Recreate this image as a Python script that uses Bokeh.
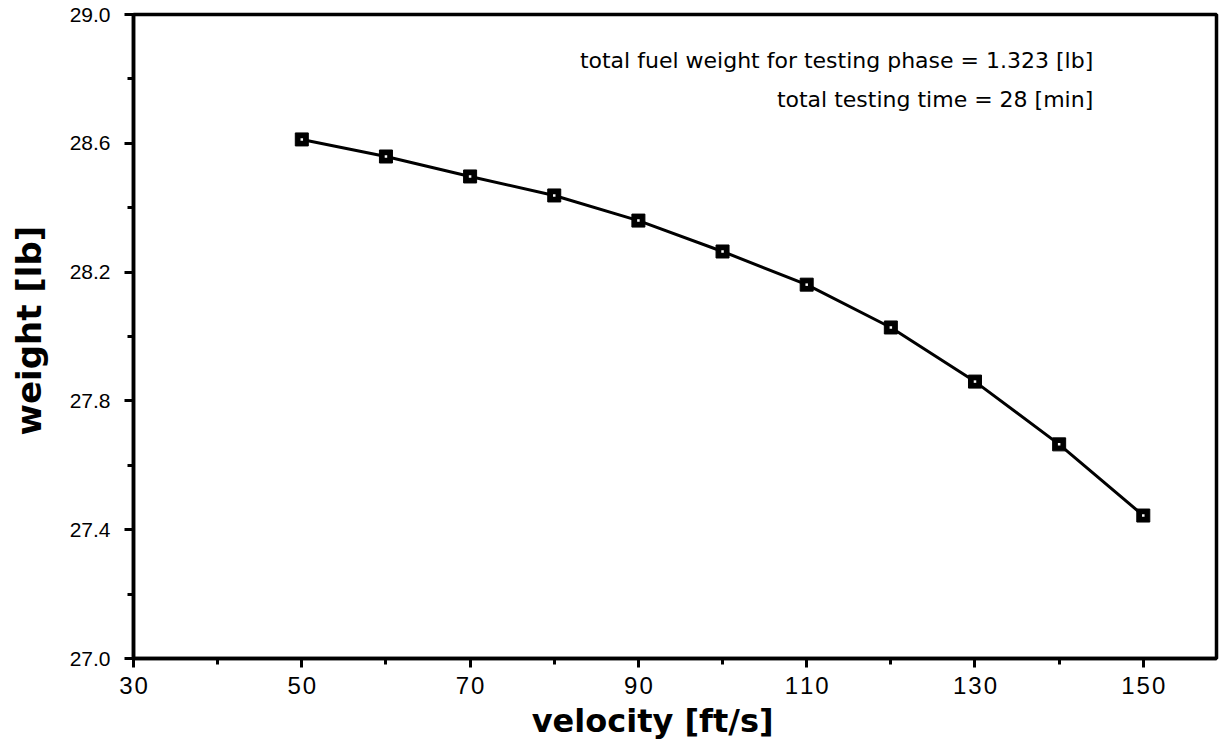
from bokeh.plotting import figure
from bokeh.models import Label, FixedTicker, CustomJSTickFormatter, Range1d
from bokeh.embed import file_html
from bokeh.resources import INLINE

# Data
velocity = [50, 60, 70, 80, 90, 100, 110, 120, 130, 140, 150]
weight = [28.612, 28.559, 28.497, 28.438, 28.360, 28.264, 28.161, 28.028, 27.860, 27.665, 27.444]

x_ticks = [30, 50, 70, 90, 110, 130, 150]
x_minor = [40, 60, 80, 100, 120, 140]
y_ticks = [27.0, 27.4, 27.8, 28.2, 28.6, 29.0]
y_minor = [27.2, 27.6, 28.0, 28.4, 28.8]

x_title = "velocity [ft/s]"
y_title = "weight  [lb]"
note1 = "total fuel weight for testing phase = 1.323 [lb]"
note2 = "total testing time = 28 [min]"

FONT = "Liberation Sans"
WIDE = "DejaVu Sans"
NB = "\u00a0"

p = figure(width=1221, height=750, output_backend="svg", toolbar_location=None,
           x_range=Range1d(30, 158.7), y_range=Range1d(27.0, 29.0),
           min_border_left=133, min_border_right=5, min_border_top=14, min_border_bottom=92)
p.grid.visible = False
p.background_fill_color = "white"
p.border_fill_color = "white"
p.outline_line_color = "black"
p.outline_line_width = 3.5

p.line(velocity, weight, line_color="black", line_width=3)
p.scatter(velocity, weight, marker="square", size=13, fill_color="black", line_color="black")
p.scatter(velocity, weight, marker="square", size=2.5, fill_color="white", line_color=None)

p.xaxis.ticker = FixedTicker(ticks=x_ticks, minor_ticks=x_minor)
p.yaxis.ticker = FixedTicker(ticks=y_ticks, minor_ticks=y_minor)
p.yaxis.formatter = CustomJSTickFormatter(code="return tick.toFixed(1);")
p.xaxis.formatter = CustomJSTickFormatter(code="return String(Math.round(tick)).split('').join('\u200a');")

for ax in (p.xaxis[0], p.yaxis[0]):
    ax.axis_line_width = 3.5
    ax.axis_line_color = "black"
    ax.major_tick_line_width = 3
    ax.minor_tick_line_width = 3
    ax.major_tick_in = 0
    ax.minor_tick_in = 0
    ax.major_tick_out = 9
    ax.minor_tick_out = 6
    ax.major_label_text_font = FONT
    ax.major_label_text_color = "black"
    ax.axis_label_text_font = WIDE
    ax.axis_label_text_font_style = "bold"
    ax.axis_label_text_color = "black"

p.xaxis.major_label_text_font_size = "24px"
p.yaxis.major_label_text_font_size = "21px"
p.xaxis.major_label_standoff = 4
p.yaxis.major_label_standoff = 14

# trailing / leading non-breaking spaces shift the titles off-centre as in the reference
p.xaxis.axis_label = x_title + NB * 4
p.xaxis.axis_label_text_font_size = "32px"
p.xaxis.axis_label_standoff = 0

p.yaxis.axis_label = NB * 2 + y_title
p.yaxis.axis_label_text_font_size = "34px"
p.yaxis.axis_label_standoff = 18

p.add_layout(Label(x=144.05, y=28.857, text=note1,
                   text_font=WIDE, text_font_size="22px", text_align="right",
                   text_baseline="middle", text_color="black"))
p.add_layout(Label(x=144.05, y=28.736, text=note2,
                   text_font=WIDE, text_font_size="22px", text_align="right",
                   text_baseline="middle", text_color="black"))

open("out.html", "w").write(file_html(p, INLINE))
